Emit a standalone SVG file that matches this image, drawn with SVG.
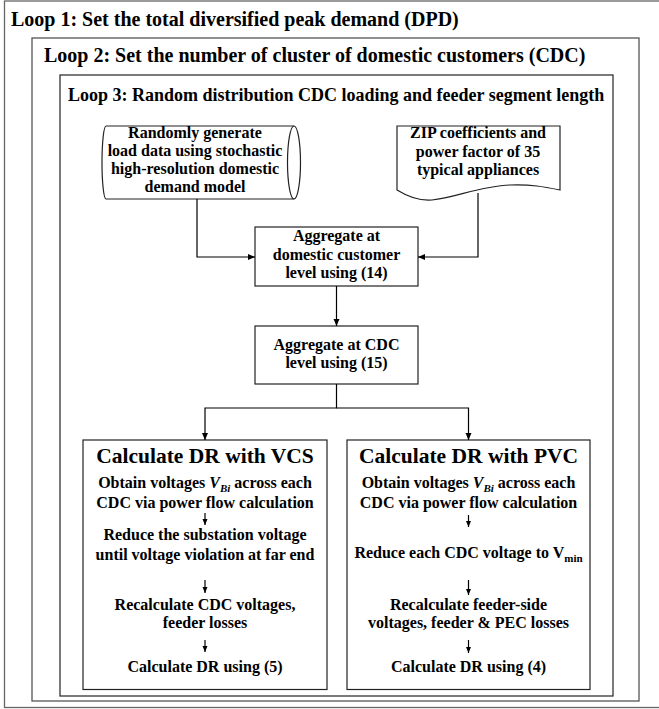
<svg xmlns="http://www.w3.org/2000/svg" width="659" height="709" viewBox="0 0 659 709">
<defs>
<marker id="ah" markerWidth="8" markerHeight="8" refX="7" refY="3" orient="auto" markerUnits="userSpaceOnUse"><path d="M0,0 L7,3 L0,6 z" fill="#000"/></marker>
<marker id="as" markerWidth="6" markerHeight="8" refX="6" refY="2.5" orient="auto" markerUnits="userSpaceOnUse"><path d="M0,0 L6,2.5 L0,5 z" fill="#000"/></marker>
</defs>
<style>
text{font-family:"Liberation Serif","Times New Roman",serif;font-weight:bold;fill:#000}
.t1{font-size:20px}
.t3{font-size:18px}
.b{font-size:16px;text-anchor:middle}
.h{font-size:21.5px;text-anchor:middle}
.loop{fill:none;stroke:#333;stroke-width:1.3}
.shape{fill:#fff;stroke:#222;stroke-width:1.2}
.con{fill:none;stroke:#000;stroke-width:1.2}
</style>
<rect width="659" height="709" fill="#fff"/>
<g id="loop1">
<rect class="loop" x="4.5" y="1" width="660" height="706.5" style="stroke:#666"/>
<text class="t1" x="11" y="26">Loop 1: Set the total diversified peak demand (DPD)</text>
</g>
<g id="loop2">
<rect class="loop" x="32" y="38" width="607" height="663" style="stroke:#555"/>
<text class="t1" x="44" y="62">Loop 2: Set the number of cluster of domestic customers (CDC)</text>
</g>
<g id="loop3">
<rect class="loop" x="60" y="75" width="553" height="621"/>
<text class="t3" x="68" y="101">Loop 3: Random distribution CDC loading and feeder segment length</text>
</g>
<g id="loaddata">
<path class="shape" d="M106,126 H294 A6.5,36.5 0 0 1 294,199 H106 A4,36.5 0 0 1 106,126 Z"/>
<path class="shape" d="M294,126 A6.5,36.5 0 0 0 294,199" fill="none"/>
<text class="b" x="195" y="138">Randomly generate</text>
<text class="b" x="195" y="156">load data using stochastic</text>
<text class="b" x="195" y="174">high-resolution domestic</text>
<text class="b" x="195" y="192">demand model</text>
</g>
<g id="zip">
<path class="shape" d="M397,126 H560 V190 C545,187 530,184 510,185 C480,186 455,198 432,200 C420,201 410,198 397,190 Z"/>
<text class="b" x="478" y="138">ZIP coefficients and</text>
<text class="b" x="478" y="157">power factor of 35</text>
<text class="b" x="478" y="175">typical appliances</text>
</g>
<g id="agg1">
<rect class="shape" x="255" y="227" width="163" height="59"/>
<text class="b" x="336.5" y="241">Aggregate at</text>
<text class="b" x="336.5" y="260">domestic customer</text>
<text class="b" x="336.5" y="278">level using (14)</text>
</g>
<g id="agg2">
<rect class="shape" x="255" y="326" width="163" height="58"/>
<text class="b" x="336.5" y="350">Aggregate at CDC</text>
<text class="b" x="336.5" y="368">level using (15)</text>
</g>
<g id="vcs">
<rect class="shape" x="83" y="440" width="244" height="249.5"/>
<text class="h" x="205" y="463">Calculate DR with VCS</text>
<text class="b" x="205" y="488">Obtain voltages <tspan font-style="italic">V</tspan><tspan font-style="italic" font-size="11" dy="4">Bi</tspan><tspan dy="-4"> across each</tspan></text>
<text class="b" x="205" y="508">CDC via power flow calculation</text>
<text class="b" x="205" y="540">Reduce the substation voltage</text>
<text class="b" x="205" y="560">until voltage violation at far end</text>
<text class="b" x="205" y="610">Recalculate CDC voltages,</text>
<text class="b" x="205" y="628">feeder losses</text>
<text class="b" x="205" y="672">Calculate DR using (5)</text>
</g>
<g id="pvc">
<rect class="shape" x="347" y="440" width="243" height="249.5"/>
<text class="h" x="468.5" y="463">Calculate DR with PVC</text>
<text class="b" x="468.5" y="488">Obtain voltages <tspan font-style="italic">V</tspan><tspan font-style="italic" font-size="11" dy="4">Bi</tspan><tspan dy="-4"> across each</tspan></text>
<text class="b" x="468.5" y="508">CDC via power flow calculation</text>
<text class="b" x="468.5" y="558">Reduce each CDC voltage to V<tspan font-size="11" dy="4">min</tspan></text>
<text class="b" x="468.5" y="610">Recalculate feeder-side</text>
<text class="b" x="468.5" y="628">voltages, feeder &amp; PEC losses</text>
<text class="b" x="468.5" y="672">Calculate DR using (4)</text>
</g>
<g id="connectors">
<path class="con" d="M197,199 V257 H255" marker-end="url(#ah)"/>
<path class="con" d="M478,193 V257 H418" marker-end="url(#ah)"/>
<path class="con" d="M336.5,286 V326" marker-end="url(#ah)"/>
<path class="con" d="M336.5,384 V408 H205 V440" marker-end="url(#ah)"/>
<path class="con" d="M336.5,408 H468.5 V440" marker-end="url(#ah)"/>
<path class="con" d="M205,513 V525" marker-end="url(#as)"/>
<path class="con" d="M205,580 V593" marker-end="url(#as)"/>
<path class="con" d="M205,640 V652" marker-end="url(#as)"/>
<path class="con" d="M468.5,515 V527" marker-end="url(#as)"/>
<path class="con" d="M468.5,580 V595" marker-end="url(#as)"/>
<path class="con" d="M468.5,640 V653" marker-end="url(#as)"/>
</g>
</svg>
